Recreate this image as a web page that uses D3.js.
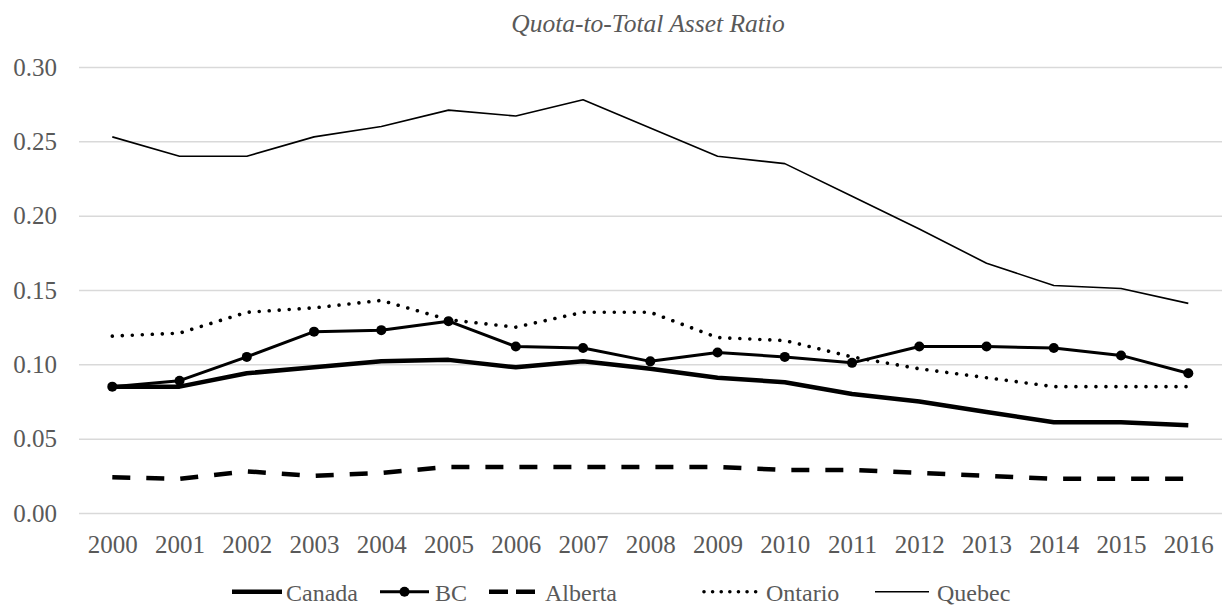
<!DOCTYPE html>
<html>
<head>
<meta charset="utf-8">
<script src="https://cdn.jsdelivr.net/npm/d3@7"></script>
<style>
  html, body { margin: 0; padding: 0; background: #fff; }
  svg { display: block; }
  svg text { font-family: "Liberation Serif", "Times New Roman", Times, serif; }
</style>
</head>
<body>
<svg id="chart" width="1224" height="609"></svg>
<script>
// Quota-to-total asset ratio by region, 2000–2016
const years = [2000, 2001, 2002, 2003, 2004, 2005, 2006, 2007, 2008, 2009, 2010, 2011, 2012, 2013, 2014, 2015, 2016];
const canada  = [0.085, 0.085, 0.094, 0.098, 0.102, 0.103, 0.098, 0.102, 0.097, 0.091, 0.088, 0.080, 0.075, 0.068, 0.061, 0.061, 0.059];
const bc      = [0.085, 0.089, 0.105, 0.122, 0.123, 0.129, 0.112, 0.111, 0.102, 0.108, 0.105, 0.101, 0.112, 0.112, 0.111, 0.106, 0.094];
const alberta = [0.024, 0.023, 0.028, 0.025, 0.027, 0.031, 0.031, 0.031, 0.031, 0.031, 0.029, 0.029, 0.027, 0.025, 0.023, 0.023, 0.023];
const ontario = [0.119, 0.121, 0.135, 0.138, 0.143, 0.130, 0.125, 0.135, 0.135, 0.118, 0.116, 0.105, 0.097, 0.091, 0.085, 0.085, 0.085];
const quebec  = [0.253, 0.240, 0.240, 0.253, 0.260, 0.271, 0.267, 0.278, 0.259, 0.240, 0.235, 0.213, 0.191, 0.168, 0.153, 0.151, 0.141];
const yTicks  = [0, 0.05, 0.10, 0.15, 0.20, 0.25, 0.30];

const svg = d3.select("#chart");
const font = '"Liberation Serif", "Times New Roman", Times, serif';
const textColor = "#595959";

const plotLeft = 79, plotRight = 1222, plotTop = 67, plotBottom = 513;

const x = d3.scalePoint().domain(years).range([112.3, 1188.3]);
const y = d3.scaleLinear().domain([0, 0.30]).range([plotBottom, plotTop]);

// Title
svg.append("text")
  .attr("x", 648).attr("y", 32)
  .attr("text-anchor", "middle")
  .style("font-family", font)
  .style("font-style", "italic")
  .style("font-size", "25.5px")
  .attr("fill", textColor)
  .text("Quota-to-Total Asset Ratio");

// Horizontal gridlines
svg.append("g")
  .attr("transform", `translate(${plotLeft},0)`)
  .call(d3.axisLeft(y).tickValues(yTicks).tickSize(-(plotRight - plotLeft)).tickFormat(""))
  .call(g => g.select(".domain").remove())
  .call(g => g.selectAll("line").attr("stroke", "#d9d9d9").attr("stroke-width", 1.5));

// Y axis labels
svg.append("g")
  .attr("transform", "translate(57,0)")
  .call(d3.axisLeft(y).tickValues(yTicks).tickSize(0).tickPadding(0).tickFormat(d3.format(".2f")))
  .attr("font-family", null).attr("font-size", null)
  .call(g => g.select(".domain").remove())
  .call(g => g.selectAll("text")
    .style("font-family", font).style("font-size", "25px").attr("fill", textColor));

// X axis labels
svg.append("g")
  .attr("transform", `translate(0,${plotBottom})`)
  .call(d3.axisBottom(x).tickSize(0).tickPadding(0))
  .attr("font-family", null).attr("font-size", null)
  .call(g => g.select(".domain").remove())
  .call(g => g.selectAll("text")
    .attr("dy", null).attr("y", 40)
    .style("font-family", font).style("font-size", "25px").attr("fill", textColor));

const series = [
  { name: "Canada",  values: canada,  width: 4.5, dash: null,      cap: "butt",  markers: false },
  { name: "BC",      values: bc,      width: 3,   dash: null,      cap: "butt",  markers: true  },
  { name: "Alberta", values: alberta, width: 4.5, dash: "18 16",   cap: "butt",  markers: false },
  { name: "Ontario", values: ontario, width: 3.6, dash: "0.01 10", cap: "round", markers: false },
  { name: "Quebec",  values: quebec,  width: 1.6, dash: null,      cap: "butt",  markers: false }
];

const line = d3.line().x((d, i) => x(years[i])).y(d => y(d));

const lines = svg.append("g");
series.forEach(s => {
  lines.append("path")
    .datum(s.values)
    .attr("d", line)
    .attr("fill", "none")
    .attr("stroke", "#000")
    .attr("stroke-width", s.width)
    .attr("stroke-linejoin", "round")
    .attr("stroke-linecap", s.cap)
    .attr("stroke-dasharray", s.dash);
  if (s.markers) {
    lines.append("g").selectAll("circle")
      .data(s.values)
      .join("circle")
      .attr("cx", (d, i) => x(years[i]))
      .attr("cy", d => y(d))
      .attr("r", 5)
      .attr("fill", "#000");
  }
});

// Legend
const legendY = 591.7;
const legendItems = [
  { s: series[0], x0: 232, x1: 282, tx: 286 },
  { s: series[1], x0: 380, x1: 429, tx: 435 },
  { s: series[2], x0: 489, x1: 536, tx: 545, dash: "19 8" },
  { s: series[3], x0: 704, x1: 756, tx: 766, dash: "0.01 8.6" },
  { s: series[4], x0: 875, x1: 929, tx: 937 }
];
const legend = svg.append("g");
legendItems.forEach(it => {
  legend.append("line")
    .attr("x1", it.x0).attr("x2", it.x1)
    .attr("y1", legendY).attr("y2", legendY)
    .attr("stroke", "#000")
    .attr("stroke-width", it.s.width)
    .attr("stroke-linecap", it.s.cap)
    .attr("stroke-dasharray", it.dash || it.s.dash);
  if (it.s.markers) {
    legend.append("circle")
      .attr("cx", (it.x0 + it.x1) / 2).attr("cy", legendY).attr("r", 5).attr("fill", "#000");
  }
  legend.append("text")
    .attr("x", it.tx).attr("y", 601)
    .style("font-family", font).style("font-size", "24px").attr("fill", textColor)
    .text(it.s.name);
});
</script>
</body>
</html>
